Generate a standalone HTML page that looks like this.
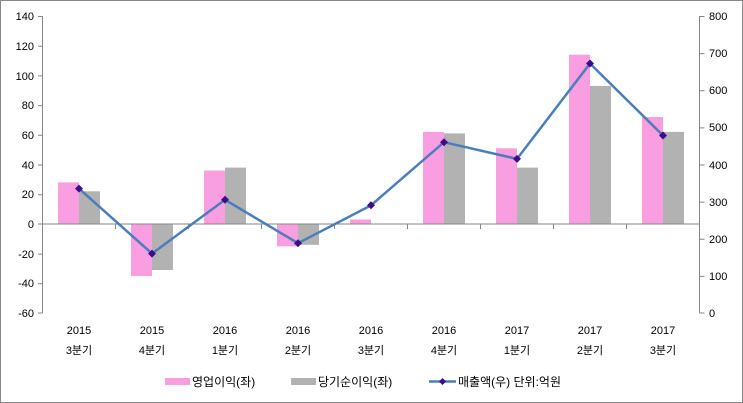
<!DOCTYPE html>
<html><head><meta charset="utf-8"><style>
body{margin:0;background:#fff}
svg{display:block;font-family:"Liberation Sans","Noto Sans CJK KR",sans-serif}
</style></head><body>
<svg width="743" height="403" viewBox="0 0 743 403">
<rect x="0.5" y="0.5" width="742" height="402" fill="#fff" stroke="#888"/>
<g fill="#f99ee0">
<rect x="58" y="182.4" width="21" height="41.6"/>
<rect x="131" y="224" width="21" height="52"/>
<rect x="204" y="170.5" width="21" height="53.5"/>
<rect x="277" y="224" width="21" height="22.3"/>
<rect x="350" y="219.5" width="21" height="4.5"/>
<rect x="423" y="131.9" width="21" height="92.1"/>
<rect x="496" y="148.3" width="21" height="75.7"/>
<rect x="569" y="54.7" width="21" height="169.3"/>
<rect x="642" y="117" width="21" height="107"/>
</g>
<g fill="#b2b2b2">
<rect x="79" y="191.3" width="21" height="32.7"/>
<rect x="152" y="224" width="21" height="46"/>
<rect x="225" y="167.6" width="21" height="56.4"/>
<rect x="298" y="224" width="21" height="20.8"/>
<rect x="444" y="133.4" width="21" height="90.6"/>
<rect x="517" y="167.6" width="21" height="56.4"/>
<rect x="590" y="85.9" width="21" height="138.1"/>
<rect x="663" y="131.9" width="21" height="92.1"/>
</g>
<g stroke="#868686" fill="none">
<line x1="42.5" y1="16" x2="42.5" y2="313"/>
<line x1="699.5" y1="16" x2="699.5" y2="313"/>
<line x1="42.5" y1="224" x2="699.5" y2="224"/>
<path d="M38 16.5h4.5M38 46.2h4.5M38 75.9h4.5M38 105.6h4.5M38 135.3h4.5M38 165h4.5M38 194.7h4.5M38 224h4.5M38 254.1h4.5M38 283.8h4.5M38 313h4.5"/>
<path d="M699.5 16.5h5M699.5 53.6h5M699.5 90.8h5M699.5 127.9h5M699.5 165h5M699.5 202.1h5M699.5 239.3h5M699.5 276.4h5M699.5 313h5"/>
<path d="M42.5 224v5M115.5 224v5M188.5 224v5M261.5 224v5M334.5 224v5M407.5 224v5M480.5 224v5M553.5 224v5M626.5 224v5M699.5 224v5"/>
</g>
<g font-size="11" fill="#000" text-anchor="end">
<text x="34" y="20">140</text><text x="34" y="50">120</text><text x="34" y="80">100</text>
<text x="34" y="109">80</text><text x="34" y="139">60</text><text x="34" y="169">40</text>
<text x="34" y="198">20</text><text x="34" y="228">0</text><text x="34" y="258">-20</text>
<text x="34" y="287">-40</text><text x="34" y="317">-60</text>
</g>
<g font-size="11" fill="#000" text-anchor="start">
<text x="709" y="20">800</text><text x="709" y="57">700</text><text x="709" y="94">600</text>
<text x="709" y="131">500</text><text x="709" y="169">400</text><text x="709" y="206">300</text>
<text x="709" y="243">200</text><text x="709" y="280">100</text><text x="709" y="317">0</text>
</g>
<g font-size="11" fill="#000" text-anchor="middle">
<text x="79" y="334">2015</text><text x="79" y="354">3분기</text>
<text x="152" y="334">2015</text><text x="152" y="354">4분기</text>
<text x="225" y="334">2016</text><text x="225" y="354">1분기</text>
<text x="298" y="334">2016</text><text x="298" y="354">2분기</text>
<text x="371" y="334">2016</text><text x="371" y="354">3분기</text>
<text x="444" y="334">2016</text><text x="444" y="354">4분기</text>
<text x="517" y="334">2017</text><text x="517" y="354">1분기</text>
<text x="590" y="334">2017</text><text x="590" y="354">2분기</text>
<text x="663" y="334">2017</text><text x="663" y="354">3분기</text>
</g>
<polyline fill="none" stroke="#4a7ebb" stroke-width="2.5" points="79,188.6 152,253.6 225,199.8 298,243.2 371,205.3 444,142.2 517,158.9 590,63.5 663,135.5"/>
<g fill="#3d0b8c">
<path d="M79 184.6l4 4-4 4-4-4z"/><path d="M152 249.6l4 4-4 4-4-4z"/>
<path d="M225 195.8l4 4-4 4-4-4z"/><path d="M298 239.2l4 4-4 4-4-4z"/>
<path d="M371 201.3l4 4-4 4-4-4z"/><path d="M444 138.2l4 4-4 4-4-4z"/>
<path d="M517 154.9l4 4-4 4-4-4z"/><path d="M590 59.5l4 4-4 4-4-4z"/>
<path d="M663 131.5l4 4-4 4-4-4z"/>
</g>
<rect x="165" y="378" width="25" height="7" fill="#f99ee0"/>
<text x="192" y="386" font-size="12">영업이익(좌)</text>
<rect x="291" y="378" width="25" height="7" fill="#b2b2b2"/>
<text x="318" y="386" font-size="12">당기순이익(좌)</text>
<line x1="429" y1="381.5" x2="456" y2="381.5" stroke="#4a7ebb" stroke-width="2.5"/>
<path d="M442.5 378l3.5 3.5-3.5 3.5-3.5-3.5z" fill="#3d0b8c"/>
<text x="458" y="386" font-size="12">매출액(우)  단위:억원</text>
</svg>
</body></html>
